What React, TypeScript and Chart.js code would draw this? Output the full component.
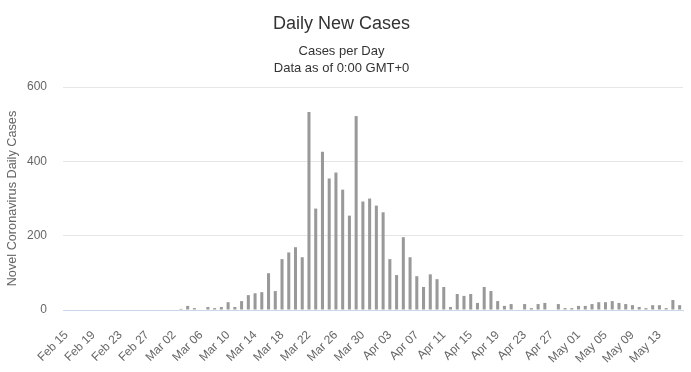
import React, { useEffect, useRef } from "react";
import { Chart, registerables } from "chart.js";

Chart.register(...registerables);

const startDate = { year: 2020, month: 1, day: 15 }; // Feb 15, 2020 (month 0-based)
const monthNames = ["Jan", "Feb", "Mar", "Apr", "May", "Jun", "Jul", "Aug", "Sep", "Oct", "Nov", "Dec"];

const dailyCases: number[] = [
  0, 0, 0, 0, 0, 0, 0, 0, 0, 0, 0, 0, 0, 0, 0, 0, 0,
  3, 11, 5, 0, 8, 5, 8, 21, 8, 24, 40, 45, 48, 99, 51,
  137, 155, 169, 142, 533, 273, 426, 354, 370, 324, 254, 522,
  292, 300, 281, 263, 137, 94, 196, 142, 91, 62, 96, 83, 62,
  8, 43, 38, 43, 19, 62, 51, 24, 11, 16, 0, 16, 5, 16, 19, 0,
  16, 5, 5, 11, 11, 16, 21, 21, 24, 19, 16, 13, 8, 5, 13, 13, 5, 27, 13,
];

const categories: string[] = dailyCases.map((_, i) => {
  const d = new Date(startDate.year, startDate.month, startDate.day + i);
  return `${monthNames[d.getMonth()]} ${String(d.getDate()).padStart(2, "0")}`;
});

const yTicks = [0, 200, 400, 600];

const FONT = "'Liberation Sans', Arial, sans-serif";

export default function App() {
  const ref = useRef<HTMLCanvasElement | null>(null);
  useEffect(() => {
    if (!ref.current) return;
    const chart = new Chart(ref.current, {
      type: "bar",
      data: {
        labels: categories,
        datasets: [
          {
            label: "Daily Cases",
            data: dailyCases,
            backgroundColor: "#999999",
            barPercentage: 0.45,
            categoryPercentage: 1,
          },
        ],
      },
      options: {
        animation: false,
        responsive: true,
        maintainAspectRatio: false,
        layout: { padding: { left: 0, right: 8, top: 0, bottom: 0 } },
        plugins: {
          legend: { display: false },
          tooltip: { enabled: false },
          title: {
            display: true,
            text: "Daily New Cases",
            color: "#333333",
            font: { family: FONT, size: 18, weight: "normal", lineHeight: 1.2 },
            padding: { top: 13, bottom: 9 },
          },
          subtitle: {
            display: true,
            text: ["Cases per Day", "Data as of 0:00 GMT+0"],
            color: "#333333",
            font: { family: FONT, size: 13, weight: "normal", lineHeight: 1.25 },
            padding: { top: 0, bottom: 11 },
          },
        },
        scales: {
          x: {
            grid: { display: false },
            border: { display: true, color: "#ccd6eb" },
            afterFit: (axis: any) => {
              axis.height = 62;
              axis.paddingLeft = 0;
              axis.paddingRight = 0;
            },
            ticks: {
              autoSkip: false,
              maxRotation: 45,
              minRotation: 45,
              padding: 10,
              color: "#666666",
              font: { family: FONT, size: 12 },
              callback: (_v: any, i: number) => (i % 4 === 0 ? categories[i] : ""),
            },
          },
          y: {
            min: 0,
            max: 600,
            afterBuildTicks: (axis: any) => {
              axis.ticks = yTicks.map((v) => ({ value: v }));
            },
            afterFit: (axis: any) => {
              axis.width = 63;
            },
            grid: { color: "#e6e6e6", drawTicks: false },
            border: { display: false },
            ticks: {
              color: "#666666",
              padding: 16,
              font: { family: FONT, size: 12 },
            },
            title: {
              display: true,
              text: "Novel Coronavirus Daily Cases",
              color: "#666666",
              font: { family: FONT, size: 12.7, lineHeight: 1.2 },
              padding: { top: 5, bottom: 0 },
            },
          },
        },
      },
    });
    return () => chart.destroy();
  }, []);
  return (
    <div style={{ position: "absolute", left: 0, top: 0, width: 691, height: 372 }}>
      <canvas ref={ref} />
    </div>
  );
}
